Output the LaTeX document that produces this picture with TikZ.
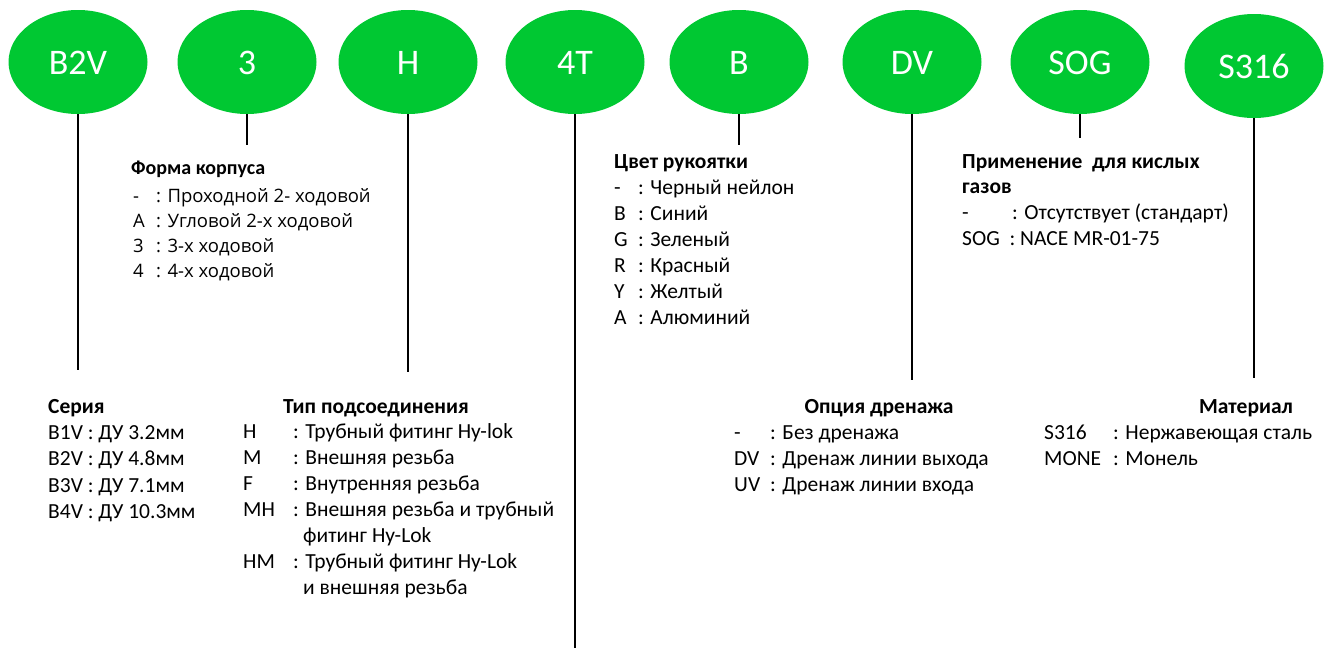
\documentclass[tikz,border=0pt]{standalone}
\usepackage{fontspec}
\setmainfont{Carlito}
\newfontfamily\segoe{Open Sans}
\usetikzlibrary{shapes.geometric}
\definecolor{hygreen}{RGB}{0,200,50}
\begin{document}
\begin{tikzpicture}[x=1pt,y=-1pt,
  ell/.style={ellipse, fill=hygreen, minimum width=139pt, minimum height=104pt, inner sep=0pt},
  elltxt/.style={text=white, font=\fontsize{36}{40}\selectfont, anchor=base, inner sep=0pt},
  conn/.style={line width=1.6pt, black},
  txt/.style={anchor=base west, inner sep=0pt, font=\fontsize{21.5}{26}\selectfont},
  hd/.style={anchor=base west, inner sep=0pt, font=\bfseries\fontsize{21.5}{26}\selectfont},
  hdc/.style={anchor=base, inner sep=0pt, font=\bfseries\fontsize{21.5}{26}\selectfont},
  hdF/.style={anchor=base west, inner sep=0pt, font=\bfseries\fontsize{20}{24}\selectfont},
  txF/.style={anchor=base west, inner sep=0pt, font=\segoe\fontsize{18.5}{22}\selectfont}]
\useasboundingbox (0,0) rectangle (1336,648);

% ellipses
\node[ell] (e1) at (78,62) {};
\node[ell] (e2) at (247,62) {};
\node[ell] (e3) at (408,62) {};
\node[ell] (e4) at (575,62) {};
\node[ell] (e5) at (739,62) {};
\node[ell] (e6) at (912,62) {};
\node[ell] (e7) at (1080,62) {};
\node[ell] (e8) at (1254,66) {};
\node[elltxt] (t1) at ([yshift=-12pt]e1.center) {B2V};
\node[elltxt] (t2) at ([yshift=-12pt]e2.center) {3};
\node[elltxt] (t3) at ([yshift=-12pt]e3.center) {H};
\node[elltxt] (t4) at ([yshift=-12pt]e4.center) {4T};
\node[elltxt] (t5) at ([yshift=-12pt]e5.center) {B};
\node[elltxt] (t6) at ([yshift=-12pt]e6.center) {DV};
\node[elltxt] (t7) at ([yshift=-12pt]e7.center) {SOG};
\node[elltxt] (t8) at ([yshift=-12pt]e8.center) {S316};

% connector ends
\coordinate (l1) at (78,370);
\coordinate (l2) at (247,145);
\coordinate (l3) at (408,372);
\coordinate (l4) at (575,648);
\coordinate (l5) at (739,145);
\coordinate (l6) at (912,380);
\coordinate (l7) at (1080,138);
\coordinate (l8) at (1254,378);
\foreach \i in {1,...,8} {\draw[conn] (e\i.south) -- (l\i);}

% Форма корпуса
\node[hdF] (f0) at (131,174) {Форма корпуса};
\node[txF] (f1c) at (133,202) {-};
\node[txF] (f1) at (156,202) {: Проходной 2- ходовой};
\node[txF] (f2c) at (133,227) {A};
\node[txF] (f2) at (156,227) {: Угловой 2-х ходовой};
\node[txF] (f3c) at (133,252) {3};
\node[txF] (f3) at (156,252) {: 3-х ходовой};
\node[txF] (f4c) at (133,277) {4};
\node[txF] (f4) at (156,277) {: 4-х ходовой};

% Цвет рукоятки
\node[hd] (c0) at (614,168) {Цвет рукоятки};
\node[txt] (c1c) at (614,194) {-};
\node[txt] (c1) at (638,194) {: Черный нейлон};
\node[txt] (c2c) at (614,220) {B};
\node[txt] (c2) at (638,220) {: Синий};
\node[txt] (c3c) at (614,246) {G};
\node[txt] (c3) at (638,246) {: Зеленый};
\node[txt] (c4c) at (614,272) {R};
\node[txt] (c4) at (638,272) {: Красный};
\node[txt] (c5c) at (614,298) {Y};
\node[txt] (c5) at (638,298) {: Желтый};
\node[txt] (c6c) at (614,324) {A};
\node[txt] (c6) at (638,324) {: Алюминий};

% Применение
\node[hd] (p0) at (962,168) {Применение~ для кислых};
\node[hd] (p0b) at (962,193) {газов};
\node[txt] (p1c) at (962,219) {-};
\node[txt] (p1) at (1012,219) {: Отсутствует (стандарт)};
\node[txt] (p2) at (962,245) {SOG~ : NACE MR-01-75};

% Серия
\node[hd] (s0) at (48,413) {Серия};
\node[txt] (s1) at (48,439) {B1V : ДУ 3.2мм};
\node[txt] (s2) at (48,465.5) {B2V : ДУ 4.8мм};
\node[txt] (s3) at (48,492) {B3V : ДУ 7.1мм};
\node[txt] (s4) at (48,518.5) {B4V : ДУ 10.3мм};

% Тип подсоединения
\node[hd] (k0) at (283,413) {Тип подсоединения};
\node[txt] (k1c) at (243,438) {H};
\node[txt] (k1) at (293,438) {: Трубный фитинг Hy-lok};
\node[txt] (k2c) at (243,464) {M};
\node[txt] (k2) at (293,464) {: Внешняя резьба};
\node[txt] (k3c) at (243,490) {F};
\node[txt] (k3) at (293,490) {: Внутренняя резьба};
\node[txt] (k4c) at (243,516) {MH};
\node[txt] (k4) at (293,516) {: Внешняя резьба и трубный};
\node[txt] (k4b) at (303,542) {фитинг Hy-Lok};
\node[txt] (k5c) at (243,568) {HM};
\node[txt] (k5) at (293,568) {: Трубный фитинг Hy-Lok};
\node[txt] (k5b) at (303,594) {и внешняя резьба};

% Опция дренажа
\node[hdc] (d0) at (879,413) {Опция дренажа};
\node[txt] (d1c) at (734,439) {-};
\node[txt] (d1) at (770,439) {: Без дренажа};
\node[txt] (d2c) at (734,465) {DV};
\node[txt] (d2) at (770,465) {: Дренаж линии выхода};
\node[txt] (d3c) at (734,491) {UV};
\node[txt] (d3) at (770,491) {: Дренаж линии входа};

% Материал
\node[hdc] (m0) at (1246,413) {Материал};
\node[txt] (m1c) at (1044,439) {S316};
\node[txt] (m1) at (1113,439) {: Нержавеющая сталь};
\node[txt] (m2c) at (1044,465) {MONE};
\node[txt] (m2) at (1113,465) {: Монель};
\end{tikzpicture}
\end{document}
